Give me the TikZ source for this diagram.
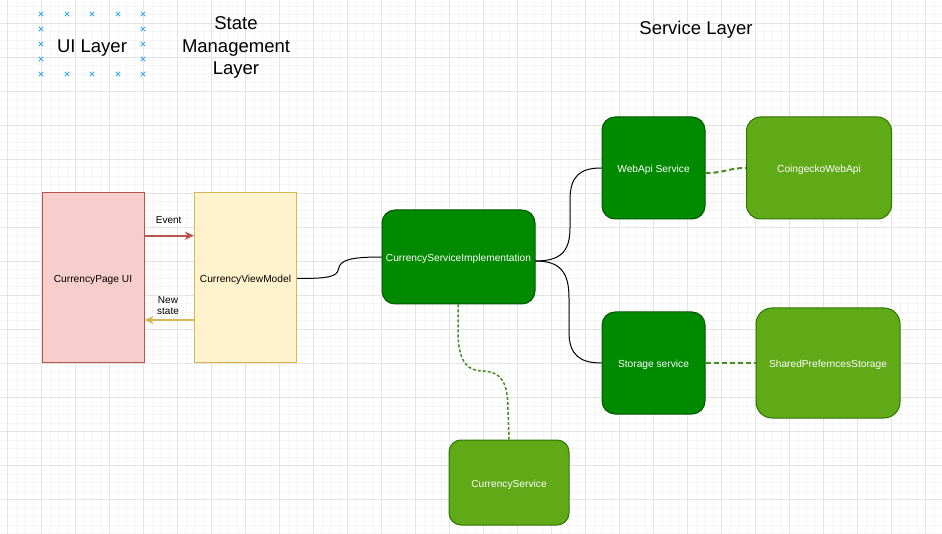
\documentclass[tikz,border=0pt]{standalone}
\usepackage{fontspec}
\setmainfont{Liberation Sans}
\usetikzlibrary{arrows.meta,calc}
\definecolor{uifill}{HTML}{F8CECC}
\definecolor{uistroke}{HTML}{B85450}
\definecolor{vmfill}{HTML}{FFF2CC}
\definecolor{vmstroke}{HTML}{D6B656}
\definecolor{dgfill}{HTML}{008A00}
\definecolor{dgstroke}{HTML}{005700}
\definecolor{lgfill}{HTML}{60A917}
\definecolor{lgstroke}{HTML}{2D7600}
\definecolor{dashcol}{HTML}{4A8A24}
\definecolor{gridmajor}{HTML}{E3E3E3}
\definecolor{gridminor}{HTML}{F5F5F5}
\definecolor{handle}{HTML}{3DA9F0}
\begin{document}
\begin{tikzpicture}[x=1pt,y=-1pt,
  box/.style={draw, line width=1pt, inner sep=0pt, align=center,
    text height=9.4pt, text depth=0pt,
    font=\fontsize{10.2}{12}\selectfont},
  uibox/.style={box, fill=uifill, draw=uistroke, minimum width=102pt, minimum height=170pt},
  vmbox/.style={box, fill=vmfill, draw=vmstroke, minimum width=102pt, minimum height=170pt},
  darkbox/.style={box, rounded corners=13pt, fill=dgfill, draw=dgstroke, text=white},
  lightbox/.style={box, rounded corners=14pt, fill=lgfill, draw=lgstroke, text=white},
  titletext/.style={inner sep=0pt, align=center, font=\fontsize{18.5}{22.5}\selectfont},
  lbltext/.style={inner sep=0pt, align=center, font=\fontsize{10}{11.7}\selectfont},
  link/.style={line width=1pt, black},
  dashlink/.style={line width=2pt, dashcol, dash pattern=on 5pt off 3pt},
  dotlink/.style={line width=1.5pt, dashcol, dash pattern=on 3pt off 2pt},
  handlemark/.style={handle, line width=1pt}
]
\useasboundingbox (0,0) rectangle (942,534);
\fill[white] (0,0) rectangle (942,534);
% grid
\foreach \i in {0,...,112} {
  \draw[gridminor, line width=0.6pt] ({-1.2+8.5*\i},0) -- ++(0,534);
}
\foreach \i in {0,...,63} {
  \draw[gridminor, line width=0.6pt] (0,{-2.2+8.5*\i}) -- ++(942,0);
}
\foreach \i in {0,...,28} {
  \draw[gridmajor, line width=0.8pt] ({7.3+34*\i},0) -- ++(0,534);
}
\foreach \i in {0,...,15} {
  \draw[gridmajor, line width=0.8pt] (0,{-10.7+34*\i}) -- ++(942,0);
}
% selection handles around UI Layer
\foreach \p in {(41,14),(67,14),(92,14),(118,14),(143,14),
                (41,74),(67,74),(92,74),(118,74),(143,74),
                (41,29),(41,44),(41,59),(143,29),(143,44),(143,59)} {
  \draw[handlemark] \p ++(-2.2,-2.2) -- ++(4.4,4.4);
  \draw[handlemark] \p ++(-2.2,2.2) -- ++(4.4,-4.4);
}
% titles
\node[titletext] (uil) at (92,48) {UI Layer};
\node[titletext] (sml) at (236,47.5) {State\\Management\\Layer};
\node[titletext] (svl) at (696,30) {Service Layer};
% boxes
\node[uibox] (page) at (93,278) {CurrencyPage UI};
\node[vmbox] (vm) at (245.5,278) {CurrencyViewModel};
\node[darkbox, minimum width=153pt, minimum height=94pt] (csi) at (458.5,257) {CurrencyServiceImplementation};
\node[darkbox, minimum width=103pt, minimum height=102pt] (web) at (653.5,168) {WebApi Service};
\node[lightbox, minimum width=145pt, minimum height=102pt] (coin) at (819,168) {CoingeckoWebApi};
\node[darkbox, minimum width=103pt, minimum height=102pt] (stor) at (653.5,363) {Storage service};
\node[lightbox, minimum width=144pt, minimum height=110pt, rounded corners=16pt] (shared) at (828,363) {SharedPreferncesStorage};
\node[lightbox, minimum width=120pt, minimum height=85pt, rounded corners=12pt] (cs) at (509,482.5) {CurrencyService};
% event arrows
\draw[uistroke, line width=2pt, -{Stealth[length=9pt,width=8pt,inset=2.5pt]}]
  ($(page.east)+(0,-42.3)$) -- ($(vm.west)+(0,-42.3)$);
\node[lbltext] (evl) at (168.7,220.5) {Event};
\draw[vmstroke, line width=2pt, -{Stealth[length=9pt,width=8pt,inset=2.5pt]}]
  ($(vm.west)+(0,42)$) -- ($(page.east)+(0,42)$);
\node[lbltext] (nsl) at (168,305.5) {New\\state};
% black connectors
\draw[link] ($(vm.east)+(0,0.5)$) .. controls (328,278.5) and (337,277) .. (338.5,269)
  .. controls (340,260) and (350,257) .. (csi.west);
\draw[link] ($(csi.east)+(0,4)$) .. controls (560,261) and (570,252) .. (570,228)
  -- (570,200) .. controls (570,176) and (580,168) .. (web.west);
\draw[link] ($(csi.east)+(0,4)$) .. controls (560,261) and (569,272) .. (569,298)
  -- (569,332) .. controls (569,355) and (580,363) .. (stor.west);
% dashed connectors
\draw[dashlink] ($(web.east)+(0,5)$) .. controls (725,173) and (728,168) .. (coin.west);
\draw[dashlink] (stor.east) -- (shared.west);
\draw[dotlink] ($(csi.south)+(-0.5,0)$) -- (458,335) .. controls (459,364) and (469,371) .. (483,371)
  .. controls (500,372) and (508,380) .. (508,410) -- (cs.north);
\end{tikzpicture}
\end{document}
